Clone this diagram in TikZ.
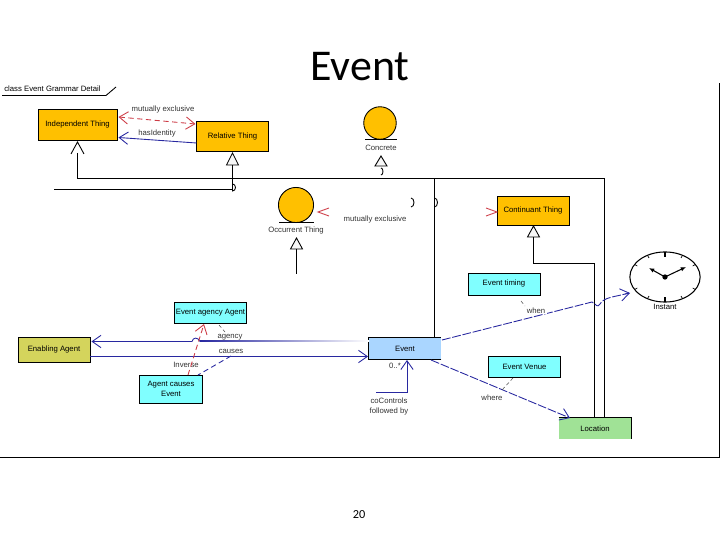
\documentclass[tikz,border=0pt]{standalone}
\usepackage{fontspec}
\setmainfont{Liberation Sans}
\newfontfamily\titlefont{Carlito}
\usetikzlibrary{arrows.meta, calc, shapes.geometric}
\definecolor{thingfill}{RGB}{255,192,0}
\definecolor{agentfill}{RGB}{212,212,92}
\definecolor{rolefill}{RGB}{128,255,255}
\definecolor{eventfill}{RGB}{170,214,255}
\definecolor{placefill}{RGB}{160,226,150}
\definecolor{linkblue}{RGB}{40,40,160}
\definecolor{linkred}{RGB}{205,60,70}
\tikzset{
	classbox/.style={draw=black, line width=0.5pt, inner sep=0pt, font=\fontsize{4.4}{5.6}\selectfont, align=center},
	rellabel/.style={font=\fontsize{4.4}{5.4}\selectfont, align=center, inner sep=0pt, text=black!80},
	genline/.style={line width=0.5pt},
	opentri/.style={draw=black, fill=black!3, line width=0.5pt},
	bluelink/.style={draw=linkblue, line width=0.5pt},
	bluedash/.style={bluelink, dash pattern=on 5pt off 1pt},
	reddash/.style={draw=linkred, line width=0.5pt, dash pattern=on 3pt off 2pt},
	opentip/.style={-{Straight Barb[length=5pt,width=7pt]}},
	notedash/.style={draw=black!70, line width=0.3pt, dash pattern=on 2pt off 1.5pt}
}
\begin{document}
\begin{tikzpicture}[x=0.02cm, y=-0.02cm, line cap=butt, line join=miter]
	\useasboundingbox (0,0) rectangle (720,540);

	% title and frame
	\node[font=\titlefont\fontsize{25}{30}\selectfont, inner sep=0pt] (title) at (360,67) {Event};
	\node[font=\titlefont\fontsize{7}{8}\selectfont, inner sep=0pt] (pagenum) at (359,515) {20};
	\node[rellabel, anchor=west, text=black] (framelabel) at (4,89) {class Event Grammar Detail};
	\draw[line width=0.5pt] (2,95.5) -- (106,95.5) -- (116,87);
	\draw[line width=0.5pt] (0,457.5) -- (719.5,457.5) -- (719.5,83);

	% top classes
	\node[classbox, fill=thingfill, minimum width=45pt, minimum height=18pt] (independent) at (77.5,125) {Independent Thing};
	\node[classbox, fill=thingfill, minimum width=40.5pt, minimum height=17.5pt] (relative) at (232.5,136.5) {Relative Thing};
	\node[classbox, fill=thingfill, minimum width=41pt, minimum height=17pt] (continuant) at (533,211) {Continuant Thing};

	% circles
	\node[circle, draw=black, line width=0.5pt, fill=thingfill, minimum size=18.5pt, inner sep=0pt] (concrete) at (380,123) {};
	\draw[genline] (365,139.5) -- (397,139.5);
	\node[rellabel] (concretelabel) at (381,147.5) {Concrete};
	\node[circle, draw=black, line width=0.5pt, fill=thingfill, minimum size=20pt, inner sep=0pt] (occurrent) at (296,205) {};
	\draw[genline] (279,222.5) -- (314,222.5);
	\node[rellabel] (occurrentlabel) at (296,231) {Occurrent Thing};

	% cyan and other classes
	\node[classbox, fill=rolefill, minimum width=41pt, minimum height=12.5pt] (timing) at (504,284) {Event timing};
	\node[classbox, fill=rolefill, minimum width=41pt, minimum height=12pt] (agency) at (210.5,313) {Event agency Agent};
	\node[classbox, fill=agentfill, minimum width=41pt, minimum height=14.5pt] (enabling) at (54,350) {Enabling Agent};
	\node[classbox, fill=rolefill, minimum width=36pt, minimum height=16pt] (causes) at (171,389) {Agent causes\\Event};
	\node[classbox, fill=eventfill, draw=none, minimum width=41pt, minimum height=12pt] (event) at (405,348.5) {Event};
	\draw[genline] (event.south east) -- (event.south west) -- (event.north west) -- (event.north east);
	\node[classbox, fill=rolefill, minimum width=41pt, minimum height=12pt] (venue) at (524.5,366.5) {Event Venue};
	\node[classbox, fill=placefill, draw=none, minimum width=41pt, minimum height=12pt] (location) at (595,428.5) {Location};
	\draw[genline] (location.north west) -- (location.north east) -- (location.south east);

	% clock
	\node[ellipse, draw=black, line width=0.6pt, minimum width=40pt, minimum height=28.5pt, inner sep=0pt] (clock) at (665,277) {};
	\foreach \a in {30,60,120,150,210,240,300,330} {
		\draw[line width=0.4pt] ($(clock.center)+(\a:32 and 22)$) -- ($(clock.center)+(\a:35 and 25)$);
	}
	\foreach \a in {90,270} {
		\draw[line width=0.8pt] ($(clock.center)+(\a:35 and 25)$) -- ($(clock.center)+(\a:28 and 20)$);
	}
	\fill (clock.center) circle (1.5pt);
	\draw[line width=0.6pt, -{Latex[length=3pt,width=2.5pt]}] (clock.center) -- (649,268);
	\draw[line width=0.6pt, -{Latex[length=3pt,width=2.5pt]}] (clock.center) -- (686,267);
	\node[rellabel, text=black] (instant) at (665,307) {Instant};

	% generalisation lines
	\coordinate (indbase) at (77.5,153);
	\coordinate (relbase) at (232.5,165);
	\coordinate (conbase) at (533.5,237);
	\coordinate (occbase) at (296.5,249);
	\draw[genline] (indbase) -- (77.5,178.5) -- (604.5,178.5) -- (location.north -| 604.5,178);
	\draw[genline] (54,189.5) -- (232.5,189.5) -- (232.5,184) arc (-90:90:3 and 3.5) -- (relbase);
	\draw[genline] (434.5,178.5) -- (434.5,207) arc (90:-90:3 and 4.5) -- (event.north -| 434.5,178);
	\draw[genline] (conbase) -- (533.5,263.5) -- (594.5,263.5) -- (location.north -| 594.5,178);
	\draw[genline] (occbase) -- (296.5,274);
	\draw[genline] (381,175) arc (90:-90:2 and 3.5);
	\draw[genline] (411,207) arc (90:-90:3 and 4.5);

	% open triangles
	\draw[opentri, fill=none] (71,154) -- (77.5,142) -- (84,154);
	\draw[opentri] (232.5,153) -- (226.5,165) -- (238.5,165) -- cycle;
	\draw[opentri] (381,156) -- (375,166) -- (387,166) -- cycle;
	\draw[opentri] (296.5,238) -- (290.5,249) -- (302.5,249) -- cycle;
	\draw[opentri] (533.5,226) -- (527.5,237) -- (539.5,237) -- cycle;

	% top links
	\draw[reddash, {Straight Barb[length=5pt,width=7pt]}-{Straight Barb[length=5pt,width=7pt]}] ($(independent.east)+(1,-8)$) -- ($(relative.west)+(-1,-12.5)$);
	\node[rellabel] (mutualone) at (163,110) {mutually exclusive};
	\draw[bluelink, opentip] ($(relative.west)+(0,6.5)$) -- ($(independent.east)+(1,12.5)$);
	\node[rellabel] (identity) at (157,134) {hasIdentity};
	\draw[draw=linkred, line width=0.5pt] (329,208) -- (318,212) -- (329,216);
	\draw[draw=linkred, line width=0.5pt] (486,208) -- (497,212) -- (486,216);
	\node[rellabel] (mutualtwo) at (375,219.5) {mutually exclusive};

	% agent links
	\coordinate (jumpleft) at (192,341.5);
	\coordinate (jumpright) at (200,341.5);
	\draw[bluelink, opentip] (jumpleft) -- ($(enabling.east)+(1,-8.5)$);
	\draw[bluelink] (jumpleft) .. controls (193,337) and (198,337) .. (jumpright);
	\shade[left color=linkblue, middle color=linkblue!75, right color=white] (200,341) rectangle (369,342);
	\draw[bluelink, opentip] ($(enabling.east)+(0,6.5)$) -- ($(event.west)+(-0.5,8)$);
	\node[rellabel, fill=white, inner xsep=1pt] (inverse) at (186,365) {Inverse};
	\draw[reddash, opentip] (188,375) -- (204,324);
	\node[rellabel, inner xsep=1pt] (agencylabel) at (230,337) {agency};
	\node[rellabel, inner xsep=1pt] (causeslabel) at (231,351) {causes};
	\draw[notedash] (219,325) -- (225,332);
	\draw[bluelink, dash pattern=on 3pt off 2pt] (231,356) -- (198,375);

	% event links
	\draw[bluelink, opentip] (376,392) -- (407,392) -- (407,360);
	\node[rellabel] (multi) at (395,366) {0..*};
	\node[rellabel] (followed) at (389,406.5) {coControls\\followed by};
	\draw[bluedash] (442,340) -- (592,302) .. controls (597,305) and (597,308) .. (600,304) .. controls (604,297) and (615,297) .. (629,293);
	\draw[bluelink, opentip] (625,294) -- (630,293);
	\node[rellabel, fill=white, inner xsep=1pt] (whenlabel) at (536,311) {when};
	\draw[notedash] (521,301) -- (525,306);
	\draw[bluedash, opentip] (431,360) -- (570,418);
	\node[rellabel] (wherelabel) at (492,397.5) {where};
	\draw[notedash] (513,378) -- (502,390);
\end{tikzpicture}
\end{document}
